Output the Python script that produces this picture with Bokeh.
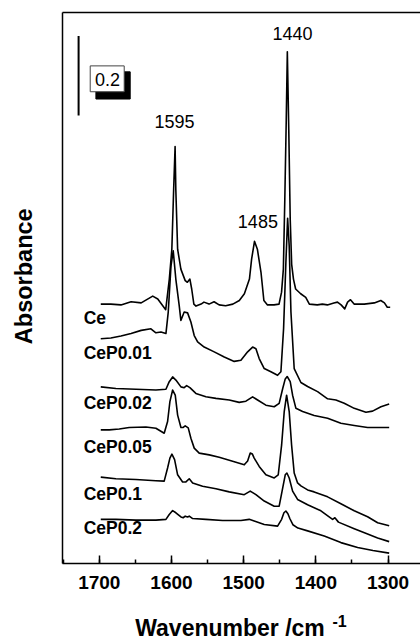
import math
from bokeh.plotting import figure
from bokeh.models import Range1d, SingleIntervalTicker, FixedTicker, LinearAxis, Label, Title
from bokeh.embed import file_html
from bokeh.resources import INLINE

# ---------------- data (wavenumber cm-1, absorbance with stacking offset) ----------------
ce_w = [1698, 1684, 1670, 1656, 1642, 1626, 1619, 1608, 1603, 1599.5, 1597, 1595, 1594, 1591.5,
        1587, 1581, 1578, 1574.5, 1572, 1569, 1566, 1559, 1555, 1548, 1541, 1534, 1525, 1515,
        1506, 1499, 1492, 1489, 1485, 1481, 1476, 1472, 1467, 1458, 1451, 1447.5, 1445, 1443,
        1441, 1439.5, 1437.5, 1435.5, 1433.5, 1431, 1428, 1421, 1414, 1409, 1398, 1391, 1384,
        1375, 1370, 1365, 1360, 1356, 1352, 1347, 1333, 1319, 1310, 1305, 1301, 1297]
ce_a = [0.652, 0.652, 0.650, 0.658, 0.655, 0.672, 0.665, 0.638, 0.715, 0.790, 0.940, 1.048, 0.940, 0.790,
        0.740, 0.711, 0.707, 0.715, 0.690, 0.652, 0.647, 0.652, 0.657, 0.652, 0.658, 0.650, 0.648, 0.652,
        0.661, 0.678, 0.715, 0.765, 0.810, 0.790, 0.732, 0.661, 0.650, 0.650, 0.652, 0.682, 0.740, 0.915,
        1.115, 1.286, 1.090, 0.865, 0.752, 0.715, 0.690, 0.678, 0.669, 0.652, 0.650, 0.652, 0.650,
        0.655, 0.657, 0.650, 0.640, 0.657, 0.663, 0.652, 0.652, 0.655, 0.661, 0.655, 0.644, 0.644]

p01_w = [1698, 1684, 1670, 1656, 1642, 1628.5, 1621.6, 1614.6, 1607.7, 1604.5, 1600.7, 1597.6, 1594,
         1589.3, 1587, 1582.4, 1577.7, 1573.1, 1568.5, 1563.8, 1554.7, 1540.8, 1526.9, 1513.1, 1503.8,
         1494.5, 1487.6, 1483, 1478.5, 1471.5, 1462.3, 1453, 1448.4, 1444.7, 1441.5, 1439.1, 1436.9,
         1434.5, 1430, 1420.7, 1411.4, 1397.6, 1383.7, 1372.2, 1360.7, 1346.8, 1330.6, 1321.4, 1309.8, 1298.4]
p01_a = [0.565, 0.567, 0.572, 0.578, 0.586, 0.590, 0.580, 0.582, 0.578, 0.632, 0.748, 0.786, 0.715,
         0.648, 0.611, 0.632, 0.630, 0.607, 0.573, 0.557, 0.544, 0.532, 0.519, 0.508, 0.511,
         0.532, 0.544, 0.540, 0.515, 0.490, 0.482, 0.473, 0.482, 0.590, 0.757, 0.8675, 0.798,
         0.632, 0.490, 0.455, 0.445, 0.432, 0.414, 0.411, 0.403, 0.390, 0.380, 0.383, 0.394, 0.401]

p02_w = [1698, 1677, 1649.3, 1621.6, 1607.7, 1603.1, 1598.4, 1593.9, 1586.9, 1582.4, 1579, 1574.5,
         1566.2, 1552.3, 1538.4, 1520, 1506.2, 1496.9, 1487.6, 1480.7, 1469.2, 1457.7, 1450.8, 1445.9,
         1442.4, 1439.7, 1435.5, 1432.2, 1427.6, 1418.3, 1402.3, 1383.7, 1365.3, 1346.8, 1328.3, 1309.8, 1298.4]
p02_a = [0.444, 0.440, 0.438, 0.436, 0.438, 0.457, 0.469, 0.461, 0.444, 0.442, 0.447, 0.442,
         0.4275, 0.419, 0.415, 0.411, 0.405, 0.408, 0.419, 0.411, 0.398, 0.394, 0.4025, 0.440,
         0.464, 0.470, 0.457, 0.423, 0.390, 0.382, 0.372, 0.365, 0.3525, 0.347, 0.342, 0.342, 0.342]

p05_w = [1698, 1686.3, 1672.4, 1658.6, 1635.4, 1621.6, 1610.1, 1605.4, 1602.2, 1598.4, 1594.8, 1591.5,
         1586.9, 1583.8, 1581, 1576.8, 1573.1, 1568.5, 1561.6, 1547.7, 1533.9, 1515.3, 1499.2, 1494.5,
         1490.9, 1487.9, 1485.4, 1478.5, 1469.2, 1457.7, 1452.1, 1447.4, 1443.8, 1440.5, 1436.9, 1433.6,
         1430, 1425.3, 1420.7, 1411.4, 1402.3, 1383.7, 1365.3, 1346.8, 1328.3, 1314.4, 1298.4]
p05_a = [0.336, 0.336, 0.338, 0.342, 0.343, 0.340, 0.3275, 0.357, 0.407, 0.436, 0.423, 0.373,
         0.342, 0.342, 0.346, 0.341, 0.315, 0.290, 0.2775, 0.273, 0.267, 0.257, 0.248, 0.2575,
         0.2775, 0.275, 0.265, 0.244, 0.223, 0.215, 0.223, 0.298, 0.382, 0.423, 0.382, 0.298,
         0.2275, 0.2025, 0.195, 0.185, 0.180, 0.1675, 0.150, 0.1325, 0.1175, 0.1025, 0.095]

p1_w = [1698, 1677, 1649.3, 1621.6, 1610.1, 1605.4, 1602.2, 1599.4, 1595.7, 1591.5, 1584.6, 1580,
        1575.4, 1570.7, 1556.9, 1538.4, 1520, 1499.2, 1490.9, 1483, 1471.5, 1457.7, 1450.8, 1445.9,
        1442.4, 1440.1, 1436.9, 1432.2, 1425.3, 1411.4, 1393, 1376.8, 1373.6, 1368.7, 1346.8, 1328.3,
        1314.4, 1298.4]
p1_a = [0.217, 0.213, 0.211, 0.208, 0.207, 0.240, 0.265, 0.275, 0.261, 0.223, 0.205, 0.205,
        0.213, 0.2025, 0.194, 0.188, 0.180, 0.173, 0.182, 0.173, 0.157, 0.144, 0.144, 0.190,
        0.223, 0.2275, 0.215, 0.182, 0.161, 0.1475, 0.1325, 0.111, 0.115, 0.104, 0.0875, 0.074,
        0.064, 0.055]

p2_w = [1698, 1677, 1649.3, 1621.6, 1607.7, 1603.1, 1598.4, 1593.9, 1586.9, 1583.8, 1581, 1577.7,
        1575.4, 1570.7, 1552.3, 1529.2, 1503.8, 1492.3, 1485.4, 1471.5, 1453, 1447.4, 1444.2, 1441.5,
        1438.7, 1435.9, 1431.8, 1424.8, 1411.4, 1388.4, 1365.3, 1342.1, 1320.9, 1298.4]
p2_a = [0.111, 0.111, 0.109, 0.109, 0.111, 0.123, 0.133, 0.1275, 0.117, 0.115, 0.119, 0.117,
        0.119, 0.113, 0.111, 0.108, 0.108, 0.111, 0.107, 0.098, 0.094, 0.111, 0.1275, 0.132,
        0.125, 0.1125, 0.0975, 0.089, 0.082, 0.069, 0.0525, 0.040, 0.0325, 0.026]

series_w = [ce_w, p01_w, p02_w, p05_w, p1_w, p2_w]
series_a = [ce_a, p01_a, p02_a, p05_a, p1_a, p2_a]

sample_names = ["Ce", "CeP0.01", "CeP0.02", "CeP0.05", "CeP0.1", "CeP0.2"]
sample_label_y = [0.6175, 0.530, 0.404, 0.2925, 0.175, 0.090]
sample_label_x = 1721.7

peak_texts = ["1595", "1485", "1440"]
peak_label_x = [1595.7, 1480.3, 1432.2]
peak_label_y = [1.1108, 0.8608, 1.3318]

scale_value = 0.2
scale_bar_x = 1728.7
scale_bar_y0 = 1.126

x_ticks_interval = 100
x_title = "Wavenumber /cm"
x_title_sup = "-1"
y_title = "Absorbance"
FONT = "Liberation Sans"
EN = "\u2002"

# ---------------- figure ----------------
p = figure(width=420, height=643, output_backend="svg", toolbar_location=None,
           x_range=Range1d(1751, 1255), y_range=Range1d(0, 1.385),
           min_border_left=62, min_border_right=0, min_border_top=12, min_border_bottom=77)
p.outline_line_color = None
p.grid.visible = False
p.background_fill_color = "white"
p.border_fill_color = "white"

xa = p.xaxis[0]
xa.ticker = SingleIntervalTicker(interval=x_ticks_interval, num_minor_ticks=2)
xa.major_tick_in = 8
xa.major_tick_out = 0
xa.minor_tick_in = 4
xa.minor_tick_out = 0
xa.axis_line_width = 1.5
xa.major_tick_line_width = 1.5
xa.minor_tick_line_width = 1.5
xa.major_label_text_font = FONT
xa.major_label_text_font_style = "bold"
xa.major_label_text_font_size = "19px"
xa.major_label_text_color = "black"
xa.major_label_standoff = 12
xa.axis_label = x_title + EN + EN
xa.axis_label_text_font = FONT
xa.axis_label_text_font_style = "bold"
xa.axis_label_text_font_size = "23px"
xa.axis_label_text_color = "black"
xa.axis_label_standoff = 23

ya = p.yaxis[0]
ya.ticker = FixedTicker(ticks=[])
ya.axis_line_width = 1.5
ya.major_tick_out = 0
ya.minor_tick_out = 0
ya.major_label_text_font_size = "0px"
ya.axis_label = EN + EN + y_title
ya.axis_label_text_font = FONT
ya.axis_label_text_font_style = "bold"
ya.axis_label_text_font_size = "23.5px"
ya.axis_label_text_color = "black"
ya.axis_label_standoff = 26

top = LinearAxis(ticker=FixedTicker(ticks=[]), axis_line_width=1.5, major_tick_out=0,
                 minor_tick_out=0, major_label_text_font_size="0px")
p.add_layout(top, "above")

# spectra
for w, a in zip(series_w, series_a):
    p.line(w, a, line_color="black", line_width=1.6, line_join="round")

# sample labels
for name, ly in zip(sample_names, sample_label_y):
    p.add_layout(Label(x=sample_label_x, y=ly, text=name, text_font=FONT, text_font_style="bold",
                       text_font_size="17.5px", text_align="left", text_baseline="middle",
                       text_color="black"))

# peak labels
for t, lx, ly in zip(peak_texts, peak_label_x, peak_label_y):
    p.add_layout(Label(x=lx, y=ly, text=t, text_font=FONT, text_font_size="18px",
                       text_align="center", text_baseline="middle", text_color="black"))

# scale bar
p.segment(x0=[scale_bar_x], y0=[scale_bar_y0], x1=[scale_bar_x], y1=[scale_bar_y0 + scale_value],
          line_color="black", line_width=2)
# shadowed box with value
p.quad(left=[1704.7], right=[1657.2], bottom=[1.1675], top=[1.2358], fill_color="black", line_color="black")
p.quad(left=[1712.6], right=[1665.5], bottom=[1.1858], top=[1.2508], fill_color="white",
       line_color="#444444", line_width=1)
p.add_layout(Label(x=1688.5, y=1.2168, text=f"{scale_value}", text_font=FONT, text_font_size="18px",
                   text_align="center", text_baseline="middle", text_color="black"))

# superscript of the x title (placed back up beside the axis label)
p.add_layout(Title(text=x_title_sup, text_font=FONT, text_font_style="bold",
                   text_font_size="16px", align="left", offset=270, standoff=-57,
                   vertical_align="top", text_color="black"), "below")

open("out.html", "w").write(file_html(p, INLINE))
